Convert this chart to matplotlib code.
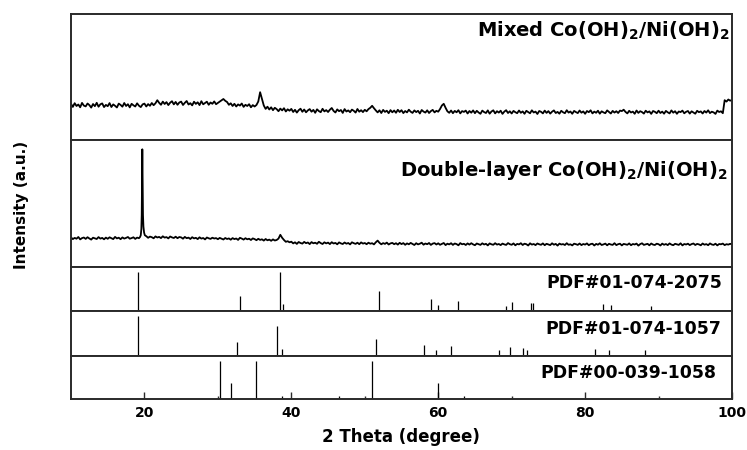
import numpy as np
import matplotlib
matplotlib.use("Agg")
import matplotlib.pyplot as plt

plt.rcParams['font.family'] = ['DejaVu Sans']
plt.rcParams['font.weight'] = 'bold'
plt.rcParams['mathtext.fontset'] = 'dejavusans'

# ---------------- data ----------------
two_theta_start = 10.0
two_theta_step = 0.25

# Mixed Co(OH)2/Ni(OH)2 pattern (a.u.), sampled every 0.25 deg from 10 to 100
mixed_intensity = [
    362, 331, 368, 340, 355, 327, 371, 344, 336, 365, 349, 324, 360, 338, 372, 333, 357, 366, 329, 351,
    338, 369, 330, 356, 342, 325, 364, 351, 333, 370, 340, 358, 326, 362, 347, 335, 367, 343, 329, 356,
    364, 335, 359, 342, 370, 348, 367, 398, 372, 352, 384, 360, 379, 349, 373, 388, 356, 381, 352, 375,
    384, 350, 372, 390, 355, 368, 346, 383, 361, 377, 349, 388, 357, 370, 383, 352, 375, 362, 386, 358,
    371, 384, 398, 410, 392, 380, 352, 367, 340, 362, 335, 356, 344, 365, 331, 352, 340, 358, 327, 349,
    335, 350, 385, 478, 410, 345, 311, 333, 305, 327, 298, 322, 309, 288, 314, 296, 318, 285, 307, 293,
    311, 280, 302, 274, 298, 313, 282, 305, 277, 296, 309, 283, 301, 272, 307, 289, 278, 312, 286, 299,
    280, 303, 320, 291, 275, 306, 288, 300, 271, 309, 285, 296, 278, 304, 292, 274, 310, 283, 298, 279,
    302, 287, 309, 322, 342, 318, 296, 276, 297, 270, 301, 281, 293, 268, 299, 277, 295, 272, 302, 280,
    298, 269, 290, 276, 303, 283, 271, 296, 279, 292, 265, 300, 284, 274, 297, 270, 289, 301, 276, 292,
    283, 310, 345, 362, 322, 287, 272, 295, 268, 291, 277, 298, 266, 289, 281, 294, 265, 290, 273, 296,
    268, 292, 275, 262, 294, 279, 270, 296, 263, 285, 297, 266, 288, 274, 293, 261, 284, 298, 270, 287,
    265, 291, 278, 268, 295, 272, 286, 262, 292, 279, 267, 297, 275, 284, 260, 290, 282, 266, 294, 271,
    289, 264, 283, 296, 270, 281, 263, 292, 277, 268, 298, 274, 285, 262, 291, 279, 269, 295, 273, 286,
    262, 290, 278, 297, 266, 284, 272, 293, 263, 287, 276, 268, 296, 280, 265, 291, 274, 288, 270, 294,
    289, 303, 281, 266, 292, 275, 284, 262, 295, 271, 288, 279, 264, 293, 276, 286, 261, 290, 282, 268,
    293, 270, 284, 263, 291, 277, 266, 296, 273, 288, 262, 285, 279, 294, 267, 282, 290, 264, 287, 275,
    263, 292, 278, 286, 265, 290, 274, 297, 269, 283, 276, 261, 294, 280, 287, 268, 398, 384, 405, 393,
    401,
]

# Double-layer Co(OH)2/Ni(OH)2 pattern (a.u.), sampled every 0.25 deg from 10 to 100
double_intensity = [
    296, 279, 291, 283, 300, 276, 289, 295, 281, 298, 285, 274, 293, 287, 280, 299, 284, 291, 277, 294,
    282, 297, 288, 279, 301, 286, 293, 278, 296, 284, 291, 300, 283, 289, 297, 281, 294, 288, 300, 500,
    320, 308, 292, 304, 298, 287, 306, 295, 301, 289, 307, 294, 299, 286, 305, 296, 290, 303, 288, 300,
    296, 283, 301, 288, 294, 280, 298, 286, 292, 279, 297, 284, 290, 276, 295, 287, 281, 293, 285, 289,
    278, 291, 283, 275, 290, 280, 286, 273, 289, 279, 285, 271, 292, 284, 274, 288, 277, 283, 270, 286,
    279, 268, 282, 271, 277, 264, 280, 267, 274, 262, 276, 265, 270, 284, 322, 292, 270, 252, 258, 247,
    253, 236, 247, 231, 250, 240, 234, 251, 238, 245, 229, 249, 237, 243, 232, 252, 239, 230, 247, 236,
    244, 229, 248, 235, 241, 227, 246, 236, 230, 245, 233, 240, 226, 247, 238, 231, 243, 228, 246, 234,
    240, 228, 243, 233, 238, 226, 247, 264, 242, 227, 239, 231, 244, 225, 236, 241, 228, 238, 224, 242,
    229, 239, 222, 236, 227, 241, 230, 220, 238, 226, 233, 243, 223, 235, 228, 240, 221, 234, 239, 225,
    237, 222, 231, 240, 219, 233, 226, 238, 221, 235, 229, 217, 239, 227, 232, 220, 236, 224, 238, 226,
    218, 235, 228, 221, 237, 225, 232, 216, 236, 227, 222, 238, 224, 230, 219, 234, 226, 221, 239, 228,
    222, 236, 217, 231, 226, 238, 220, 233, 228, 215, 237, 224, 230, 219, 235, 227, 222, 236, 218, 232,
    226, 219, 237, 223, 231, 214, 234, 225, 229, 220, 238, 222, 227, 216, 233, 228, 221, 235, 219, 230,
    224, 236, 218, 229, 233, 215, 231, 223, 237, 220, 226, 234, 217, 232, 225, 221, 238, 219, 228, 233,
    216, 231, 227, 222, 236, 218, 230, 225, 234, 214, 229, 237, 221, 227, 232, 217, 235, 224, 220, 233,
    228, 215, 234, 222, 230, 219, 236, 224, 218, 232, 227, 221, 237, 216, 230, 225, 233, 219, 229, 235,
    220, 231, 226, 217, 235, 223, 229, 218, 236, 225, 221, 233, 216, 230, 227, 234, 219, 228, 224, 232,
    226,
]

# finely sampled main reflection of the double-layer sample
double_peak_theta = [19.40, 19.50, 19.58, 19.63, 19.67, 19.71, 19.75, 19.80, 19.86, 19.95, 20.05]
double_peak_intensity = [300, 318, 380, 520, 820, 1177, 830, 520, 405, 345, 318]

# Reference cards (2theta, relative intensity)
pdf_2075_theta = [19.17, 33.06, 38.40, 38.87, 51.94, 59.02, 59.93, 62.70, 69.20, 70.10,
                  72.60, 72.90, 82.40, 83.50, 89.00]
pdf_2075_int = [100, 39, 100, 19, 51, 30, 16, 26, 14, 23, 20, 20, 17, 15, 14]

pdf_1057_theta = [19.12, 32.56, 38.05, 38.77, 51.53, 58.10, 59.74, 61.74, 68.24, 69.73,
                  71.60, 72.10, 81.30, 83.26, 88.16]
pdf_1057_int = [100, 35, 75, 17, 42, 27, 15, 25, 15, 22, 21, 15, 17, 15, 15]

pdf_1058_theta = [30.29, 31.74, 35.15, 38.69, 46.50, 50.98, 59.93, 63.50]
pdf_1058_int = [100, 41, 100, 8, 8, 100, 41, 8]

sample_labels = [r'Mixed Co(OH)$_\mathbf{2}$/Ni(OH)$_\mathbf{2}$',
                 r'Double-layer Co(OH)$_\mathbf{2}$/Ni(OH)$_\mathbf{2}$']
pdf_labels = ['PDF#01-074-2075', 'PDF#01-074-1057', 'PDF#00-039-1058']
x_ticks = [20, 40, 60, 80, 100]
x_minor_ticks = [30, 50, 70, 90]

# ---------------- figure ----------------
fig = plt.figure(figsize=(7.47, 4.5), dpi=100)
W, H = 747.0, 450.0
left, right = 71 / W, 732 / W
bounds_px = [(14, 140), (140, 267), (267, 311), (311, 356), (356, 399)]
axes = []
for top_px, bot_px in bounds_px:
    ax = fig.add_axes([left, 1 - bot_px / H, right - left, (bot_px - top_px) / H])
    axes.append(ax)

spine_color = '#2a2a2a'
for ax in axes:
    ax.set_xlim(10, 100)
    for s in ax.spines.values():
        s.set_color(spine_color)
        s.set_linewidth(1.4)
    ax.tick_params(left=False, labelleft=False, bottom=False, labelbottom=False)
    ax.set_yticks([])

n = len(mixed_intensity)
grid_theta = two_theta_start + two_theta_step * np.arange(n)

# panel 1 : mixed
axes[0].plot(grid_theta, mixed_intensity, color='black', lw=1.3)
axes[0].set_ylim(0, 1260)

# panel 2 : double-layer (merge the finely sampled peak)
dt = np.asarray(grid_theta)
di = np.asarray(double_intensity, dtype=float)
keep = (dt < min(double_peak_theta)) | (dt > max(double_peak_theta))
xd = np.concatenate([dt[keep], double_peak_theta])
yd = np.concatenate([di[keep], double_peak_intensity])
order = np.argsort(xd)
axes[1].plot(xd[order], yd[order], color='black', lw=1.3)
axes[1].set_ylim(0, 1270)

# reference cards
for ax, th, it in zip(axes[2:], [pdf_2075_theta, pdf_1057_theta, pdf_1058_theta],
                      [pdf_2075_int, pdf_1057_int, pdf_1058_int]):
    ax.vlines(th, 0, it, color='black', lw=0.9)
    ax.set_ylim(0, 113.6)

# labels in panels
axes[0].text(0.997, 0.865, sample_labels[0], transform=axes[0].transAxes,
             ha='right', va='center', fontsize=14, fontweight='bold')
axes[1].text(0.994, 0.756, sample_labels[1], transform=axes[1].transAxes,
             ha='right', va='center', fontsize=14, fontweight='bold')
for ax, lab, yy, xx in zip(axes[2:], pdf_labels, [0.625, 0.61, 0.605], [0.986, 0.983, 0.977]):
    ax.text(xx, yy, lab, transform=ax.transAxes, ha='right', va='center',
            fontsize=12.4, fontweight='bold')

# bottom axis ticks
bax = axes[-1]
bax.set_xticks(x_ticks)
bax.set_xticks(x_minor_ticks, minor=True)
bax.tick_params(axis='x', which='major', direction='in', length=4.7, width=1.0,
                bottom=True, labelbottom=True, labelsize=10, pad=5, color=spine_color)
bax.tick_params(axis='x', which='minor', direction='in', length=2.2, width=1.0,
                bottom=True, color=spine_color)
for lbl in bax.get_xticklabels():
    lbl.set_fontweight('bold')

fig.text(0.537, 0.029, '2 Theta (degree)', ha='center', va='center',
         fontsize=12, fontweight='bold')
fig.text(0.029, 0.544, 'Intensity (a.u.)', ha='center', va='center',
         rotation=90, fontsize=11, fontweight='bold')

fig.savefig('out.png', dpi=100)
